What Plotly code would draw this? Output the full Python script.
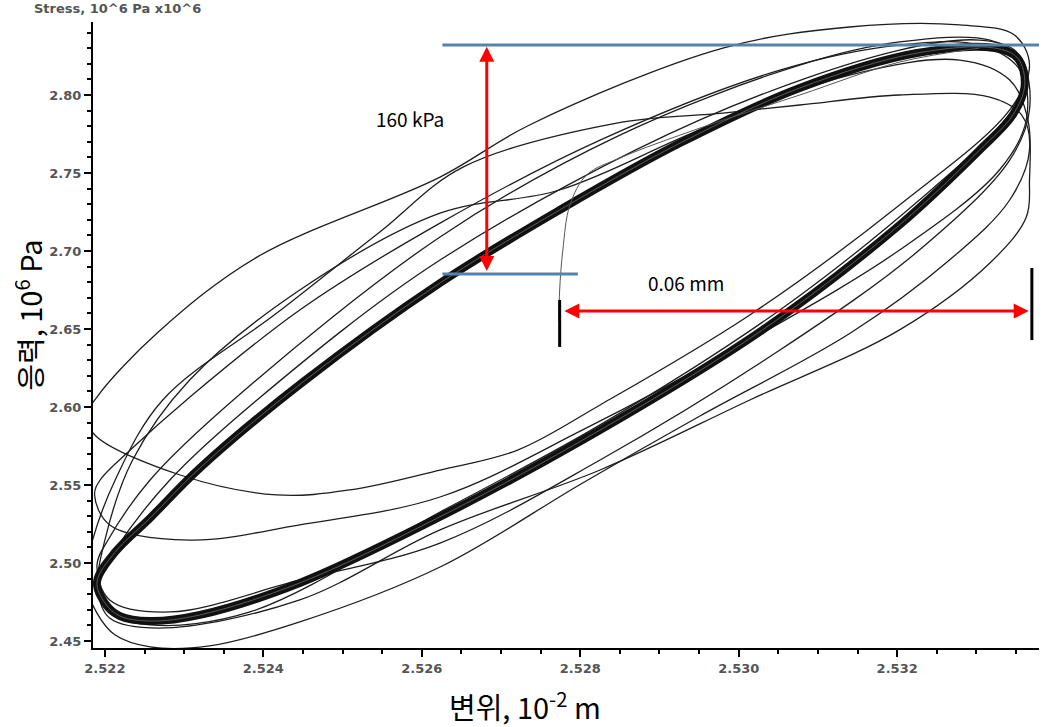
import plotly.graph_objects as go

# displacement (10^-2 m) / stress (10^6 Pa) loops
main_x = [2.52190, 2.52200, 2.52219, 2.52257, 2.52320, 2.52446, 2.52610, 2.52803, 2.53030, 2.53203,
          2.53304, 2.53346, 2.53361, 2.53352, 2.53323, 2.53225, 2.53077, 2.52926, 2.52774, 2.52623,
          2.52450, 2.52320, 2.52257, 2.52213]
main_y = [2.4878, 2.4744, 2.4660, 2.4628, 2.4667, 2.4872, 2.5263, 2.5788, 2.6494, 2.7167,
          2.7647, 2.7872, 2.8064, 2.8237, 2.8301, 2.8269, 2.8045, 2.7692, 2.7263, 2.6795,
          2.6160, 2.5609, 2.5288, 2.5070]

loop_a_x = [2.52176, 2.52190, 2.52266, 2.52392, 2.52623, 2.52736, 2.52980, 2.53140, 2.53279, 2.53348,
            2.53367, 2.53342, 2.53203, 2.53014, 2.52825, 2.52721, 2.52623, 2.52509, 2.52417, 2.52295,
            2.52190]
loop_a_y = [2.5929, 2.6064, 2.6474, 2.6961, 2.7474, 2.7808, 2.8301, 2.8436, 2.8449, 2.8384,
            2.8192, 2.7904, 2.7295, 2.6590, 2.6013, 2.5724, 2.5596, 2.5468, 2.5436, 2.5564,
            2.5808]

loop_b_x = [2.52175, 2.52190, 2.52213, 2.52257, 2.52332, 2.52446, 2.52623, 2.52803, 2.52951, 2.53141,
            2.53266, 2.53342, 2.53367, 2.53357, 2.53317, 2.53203, 2.53077, 2.52980, 2.52846, 2.52652,
            2.52547, 2.52417, 2.52273, 2.52213, 2.52181]
loop_b_y = [2.4891, 2.4679, 2.4538, 2.4462, 2.4468, 2.4622, 2.4974, 2.5513, 2.5942, 2.6474,
            2.6942, 2.7327, 2.7647, 2.7872, 2.7987, 2.8000, 2.7936, 2.7884, 2.7820, 2.7538,
            2.7122, 2.6602, 2.6045, 2.5532, 2.5083]

loop_c_x = [2.52187, 2.52206, 2.52307, 2.52446, 2.52623, 2.52803, 2.53014, 2.53203, 2.53329, 2.53363,
            2.53355, 2.53304, 2.53203, 2.53052, 2.52825, 2.52623, 2.52446, 2.52303, 2.52232, 2.52194]
loop_c_y = [2.5436, 2.5244, 2.5147, 2.5244, 2.5423, 2.5853, 2.6429, 2.7006, 2.7519, 2.7840,
            2.8160, 2.8320, 2.8320, 2.8160, 2.7711, 2.7179, 2.6622, 2.6045, 2.5724, 2.5532]

loop_d_x = [2.52190, 2.52206, 2.52282, 2.52446, 2.52623, 2.52825, 2.53052, 2.53228, 2.53342, 2.53367,
            2.53357, 2.53317, 2.53203, 2.53077, 2.52850, 2.52623, 2.52362, 2.52257, 2.52204]
loop_d_y = [2.4987, 2.4763, 2.4686, 2.4891, 2.5128, 2.5660, 2.6365, 2.7006, 2.7583, 2.7904,
            2.8224, 2.8352, 2.8340, 2.8192, 2.7743, 2.7090, 2.6045, 2.5532, 2.5147]

loop_e_x = [2.52190, 2.52204, 2.52257, 2.52383, 2.52623, 2.52825, 2.53052, 2.53228, 2.53336, 2.53365,
            2.53348, 2.53304, 2.53203, 2.52951, 2.52623, 2.52392, 2.52282, 2.52213]
loop_e_y = [2.4859, 2.4686, 2.4603, 2.4686, 2.5327, 2.5885, 2.6622, 2.7327, 2.7840, 2.8096,
            2.8288, 2.8352, 2.8288, 2.7840, 2.6942, 2.6045, 2.5532, 2.5083]

loop_f_x = [2.52191, 2.52206, 2.52269, 2.52446, 2.52623, 2.52825, 2.53014, 2.53203, 2.53317, 2.53363,
            2.53367, 2.53365, 2.53342, 2.53279, 2.53140, 2.52951, 2.52774, 2.52623, 2.52446, 2.52307,
            2.52235, 2.52200]
loop_f_y = [2.4827, 2.4647, 2.4583, 2.4763, 2.5212, 2.5596, 2.6045, 2.6494, 2.6923, 2.7218,
            2.7455, 2.7840, 2.8096, 2.8224, 2.8128, 2.7776, 2.7391, 2.7243, 2.6750, 2.6173,
            2.5660, 2.5147]

# start-up transient (open curve)
start_x = [2.52773, 2.52774, 2.52778, 2.52787, 2.52808, 2.52850, 2.52951, 2.53077, 2.53203, 2.53304]
start_y = [2.6545, 2.6750, 2.7006, 2.7295, 2.7487, 2.7596, 2.7788, 2.8000, 2.8211, 2.8301]

x_ticks = [2.522, 2.524, 2.526, 2.528, 2.530, 2.532]
y_ticks = [2.45, 2.50, 2.55, 2.60, 2.65, 2.70, 2.75, 2.80]


def closed(xs, ys):
    return xs + xs[:1], ys + ys[:1]


fig = go.Figure()

for xs, ys in [(loop_a_x, loop_a_y), (loop_b_x, loop_b_y), (loop_c_x, loop_c_y),
               (loop_d_x, loop_d_y), (loop_e_x, loop_e_y), (loop_f_x, loop_f_y)]:
    cx, cy = closed(xs, ys)
    fig.add_trace(go.Scatter(x=cx, y=cy, mode='lines', line=dict(color='#1e1e1e', width=1.3, shape='spline'),
                             hoverinfo='skip', showlegend=False))

mx, my = closed(main_x, main_y)
fig.add_trace(go.Scatter(x=mx, y=my, mode='lines', line=dict(color='#111111', width=8, shape='spline'),
                         hoverinfo='skip', showlegend=False))
fig.add_trace(go.Scatter(x=mx, y=my, mode='lines', line=dict(color='#5a5a5a', width=1, shape='spline'),
                         hoverinfo='skip', showlegend=False))
fig.add_trace(go.Scatter(x=start_x, y=start_y, mode='lines', line=dict(color='#555555', width=1, shape='spline'),
                         hoverinfo='skip', showlegend=False))

red = '#ff0000'
blue = '#5483ac'
shapes = [
    dict(type='line', xref='x', yref='y', x0=2.52626, x1=2.53386, y0=2.8320, y1=2.8320, line=dict(color=blue, width=3)),
    dict(type='line', xref='x', yref='y', x0=2.52626, x1=2.52797, y0=2.6852, y1=2.6852, line=dict(color=blue, width=3)),
    dict(type='line', xref='x', yref='y', x0=2.52774, x1=2.52774, y0=2.6385, y1=2.6686, line=dict(color='black', width=3)),
    dict(type='line', xref='x', yref='y', x0=2.53370, x1=2.53370, y0=2.6429, y1=2.6891, line=dict(color='black', width=3)),
]

annotations = [
    dict(x=2.52682, y=2.8310, ax=2.52682, ay=2.6862, xref='x', yref='y', axref='x', ayref='y', text='',
         showarrow=True, arrowhead=2, arrowside='end+start', arrowsize=1, arrowwidth=3, arrowcolor=red),
    dict(x=2.53366, y=2.6615, ax=2.52778, ay=2.6615, xref='x', yref='y', axref='x', ayref='y', text='',
         showarrow=True, arrowhead=2, arrowside='end+start', arrowsize=1, arrowwidth=3, arrowcolor=red),
    dict(x=2.52585, y=2.7852, xref='x', yref='y', text='160 kPa', showarrow=False,
         xanchor='center', yanchor='middle',
         font=dict(family='Noto Sans CJK KR', size=19, color='black')),
    dict(x=2.52934, y=2.6801, xref='x', yref='y', text='0.06 mm', showarrow=False,
         xanchor='center', yanchor='middle',
         font=dict(family='Noto Sans CJK KR', size=19, color='black')),
    dict(x=-0.069, y=0.532, xref='paper', yref='paper', text='응력, 10<sup>6</sup> Pa', textangle=-90,
         xanchor='center', yanchor='middle', showarrow=False,
         font=dict(family='Noto Sans CJK KR', size=29, color='black')),
    dict(x=0.457, y=-0.091, xref='paper', yref='paper', text='변위, 10<sup>-2</sup> m',
         xanchor='center', yanchor='middle', showarrow=False,
         font=dict(family='Noto Sans CJK KR', size=29, color='black')),
    dict(x=-0.064, y=1.021, xref='paper', yref='paper', text='Stress, 10^6 Pa x10^6',
         xanchor='left', yanchor='middle', showarrow=False,
         font=dict(family='DejaVu Sans', size=13, color='#555555', weight='bold')),
]

tick_font = dict(family='DejaVu Sans', size=13, color='#555555', weight='bold')

fig.update_layout(
    width=1048, height=727,
    margin=dict(l=93, r=9, t=22, b=79),
    paper_bgcolor='white', plot_bgcolor='white',
    shapes=shapes, annotations=annotations,
    xaxis=dict(range=[2.52185, 2.53379], tickvals=x_ticks, ticktext=['%.3f' % v for v in x_ticks],
               showgrid=False, zeroline=False, showline=True, linecolor='black', linewidth=2,
               ticks='outside', ticklen=7, tickwidth=1.5, tickcolor='black',
               minor=dict(dtick=0.0005, tick0=2.522, ticks='outside', ticklen=4, tickcolor='black'),
               tickfont=tick_font),
    yaxis=dict(range=[2.4455, 2.8468], tickvals=y_ticks, ticktext=['%.2f' % v for v in y_ticks],
               showgrid=False, zeroline=False, showline=True, linecolor='black', linewidth=2,
               ticks='outside', ticklen=7, tickwidth=1.5, tickcolor='black',
               minor=dict(dtick=0.01, tick0=2.45, ticks='outside', ticklen=4, tickcolor='black'),
               tickfont=tick_font),
)

# drop the default 8px body margin so the figure sits at the window's top-left corner
fig.write_html("out.html", config={'displayModeBar': False},
               post_script="document.body.style.margin='0';")
